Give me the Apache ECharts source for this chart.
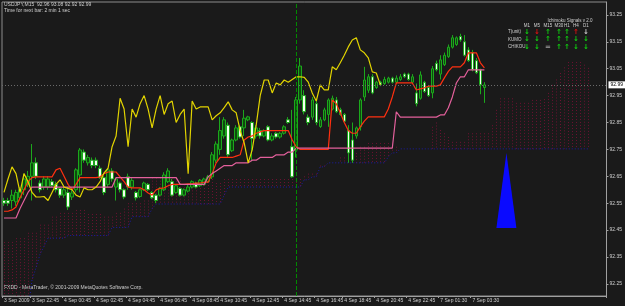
<!DOCTYPE html>
<html><head><meta charset="utf-8">
<script src="https://cdn.jsdelivr.net/npm/echarts/dist/echarts.min.js"></script>
<style>html,body{margin:0;padding:0;background:#1a1a1a;}#c{width:625px;height:306px;}</style>
</head><body><div id="c"></div>
<script>
// ---- DATA ----
// candles: [open, close, low, high], one per 15-minute bar
const candles = [
[92.56,92.55,92.54,92.57],[92.56,92.55,92.54,92.57],[92.56,92.58,92.53,92.60],[92.555,92.59,92.54,92.60],[92.57,92.60,92.56,92.61],
[92.60,92.64,92.58,92.66],[92.62,92.65,92.61,92.67],[92.65,92.70,92.56,92.77],[92.70,92.65,92.64,92.72],[92.625,92.60,92.59,92.635],
[92.61,92.64,92.60,92.65],[92.61,92.64,92.60,92.65],[92.63,92.615,92.61,92.64],[92.62,92.60,92.59,92.63],[92.605,92.58,92.57,92.61],
[92.58,92.60,92.57,92.61],[92.59,92.536,92.525,92.61],[92.573,92.588,92.562,92.61],[92.60,92.674,92.59,92.68],[92.655,92.748,92.59,92.755],
[92.74,92.71,92.70,92.75],[92.70,92.72,92.69,92.73],[92.71,92.69,92.68,92.72],[92.71,92.69,92.68,92.72],[92.68,92.645,92.64,92.69],
[92.645,92.59,92.58,92.65],[92.62,92.674,92.61,92.68],[92.67,92.64,92.63,92.68],[92.61,92.64,92.56,92.645],[92.625,92.60,92.59,92.63],
[92.60,92.573,92.565,92.605],[92.648,92.61,92.60,92.66],[92.61,92.635,92.60,92.645],[92.59,92.57,92.56,92.595],[92.575,92.60,92.57,92.605],
[92.60,92.625,92.595,92.63],[92.62,92.60,92.595,92.625],[92.59,92.57,92.565,92.595],[92.58,92.56,92.55,92.585],[92.58,92.605,92.575,92.61],
[92.60,92.655,92.595,92.665],[92.63,92.67,92.625,92.68],[92.63,92.58,92.575,92.64],[92.59,92.615,92.585,92.62],[92.605,92.58,92.575,92.61],
[92.58,92.60,92.575,92.605],[92.595,92.61,92.59,92.62],[92.61,92.63,92.605,92.635],[92.625,92.61,92.605,92.63],[92.615,92.635,92.61,92.64],
[92.62,92.64,92.615,92.645],[92.63,92.648,92.625,92.655],[92.648,92.73,92.64,92.74],[92.71,92.77,92.70,92.78],[92.75,92.82,92.73,92.87],
[92.80,92.86,92.79,92.87],[92.84,92.73,92.72,92.85],[92.745,92.785,92.74,92.79],[92.785,92.83,92.78,92.84],[92.834,92.796,92.79,92.84],
[92.83,92.866,92.80,92.897],[92.86,92.871,92.855,92.875],[92.85,92.79,92.706,92.855],[92.80,92.83,92.79,92.84],[92.82,92.80,92.79,92.83],
[92.80,92.82,92.795,92.825],[92.834,92.785,92.78,92.84],[92.785,92.80,92.78,92.81],[92.81,92.796,92.79,92.815],[92.796,92.81,92.79,92.815],
[92.81,92.834,92.805,92.84],[92.86,92.85,92.845,92.87],[92.76,92.648,92.645,92.897],[92.748,92.934,92.72,92.945],[92.934,93.06,92.92,93.09],
[92.95,92.89,92.88,92.97],[92.87,92.85,92.84,92.88],[92.87,92.934,92.86,92.945],[92.92,92.85,92.84,92.93],[92.835,92.86,92.83,92.87],
[92.86,92.897,92.855,92.905],[92.88,92.934,92.834,92.94],[92.90,92.94,92.895,92.95],[92.934,92.89,92.885,92.945],[92.897,92.88,92.875,92.905],
[92.88,92.855,92.85,92.885],[92.82,92.737,92.70,92.84],[92.785,92.71,92.70,92.85],[92.80,92.83,92.79,92.835],[92.834,92.934,92.82,92.94],
[92.945,93.008,92.93,93.057],[92.97,93.02,92.96,93.03],[93.02,92.96,92.955,93.03],[92.98,93.00,92.975,93.005],[93.00,92.99,92.985,93.005],
[92.995,93.01,92.99,93.02],[93.00,93.015,92.995,93.02],[93.015,93.00,92.995,93.02],[93.00,93.015,92.995,93.025],[93.01,93.02,93.005,93.03],
[93.03,93.02,93.015,93.035],[93.03,93.01,93.005,93.035],[93.00,93.02,92.995,93.03],[92.96,92.92,92.91,92.995],[92.94,93.027,92.935,93.04],
[93.00,92.965,92.96,93.005],[92.98,92.95,92.945,92.985],[92.96,93.05,92.94,93.06],[93.07,93.046,93.04,93.08],[93.03,93.083,93.01,93.10],
[93.065,93.10,93.06,93.11],[93.095,93.13,93.09,93.14],[93.13,93.165,93.125,93.175],[93.14,93.165,93.135,93.17],[93.17,93.157,93.15,93.18],
[93.15,93.10,93.095,93.175],[93.12,93.08,93.075,93.13],[93.11,93.046,93.04,93.12],[93.08,93.035,93.03,93.09],[93.046,92.99,92.955,93.05],
[92.98,92.99,92.923,93.00]
];
const tenkan = [
92.52,92.52,92.525,92.536,92.57,92.60,92.63,92.645,92.648,92.648,
92.648,92.648,92.648,92.674,92.68,92.65,92.62,92.60,92.62,92.645,
92.645,92.645,92.645,92.645,92.648,92.66,92.666,92.666,92.666,92.648,
92.63,92.61,92.607,92.607,92.607,92.60,92.588,92.58,92.60,92.605,
92.607,92.615,92.62,92.62,92.62,92.62,92.622,92.622,92.625,92.625,
92.628,92.628,92.66,92.70,92.72,92.72,92.72,92.72,92.725,92.73,
92.785,92.796,92.80,92.81,92.815,92.82,92.82,92.82,92.82,92.82,
92.82,92.82,92.785,92.76,92.75,92.75,92.75,92.75,92.75,92.75,
92.75,92.75,92.934,92.92,92.886,92.85,92.82,92.81,92.81,92.834,
92.855,92.871,92.871,92.871,92.871,92.871,92.90,92.945,92.997,92.997,
92.997,92.997,92.997,92.971,92.975,92.979,92.985,92.985,92.985,92.99,
93.016,93.04,93.057,93.057,93.057,93.072,93.109,93.109,93.109,93.072,
93.053];
const kijun = [
92.495,92.495,92.495,92.495,92.53,92.56,92.59,92.61,92.61,92.61,
92.61,92.61,92.61,92.61,92.61,92.61,92.61,92.61,92.61,92.61,
92.61,92.61,92.61,92.61,92.61,92.61,92.61,92.61,92.645,92.645,
92.645,92.645,92.645,92.645,92.645,92.645,92.645,92.645,92.645,92.645,
92.645,92.645,92.645,92.645,92.62,92.62,92.62,92.62,92.62,92.62,
92.62,92.648,92.66,92.67,92.68,92.69,92.69,92.69,92.70,92.70,
92.70,92.70,92.71,92.71,92.72,92.72,92.72,92.72,92.73,92.73,
92.73,92.74,92.74,92.755,92.755,92.755,92.755,92.755,92.755,92.755,
92.755,92.755,92.755,92.755,92.755,92.755,92.755,92.755,92.755,92.755,
92.755,92.755,92.755,92.755,92.755,92.755,92.755,92.755,92.89,92.87,
92.87,92.87,92.87,92.87,92.87,92.87,92.87,92.87,92.87,92.878,
92.878,92.905,92.945,92.997,93.02,93.02,93.046,93.046,93.046,93.046,
93.046];
const chikou = [
92.59,92.64,92.685,92.66,92.59,92.66,92.63,92.59,92.573,92.573,
92.575,92.56,92.59,92.62,92.637,92.61,92.605,92.60,92.58,92.573,
92.607,92.60,92.60,92.61,92.63,92.663,92.68,92.76,92.80,92.94,
92.90,92.76,92.90,92.87,92.92,92.95,92.90,92.83,92.90,92.95,
92.88,92.92,92.93,92.85,92.88,92.90,92.66,92.93,92.90,92.908,
92.908,92.908,92.86,92.875,92.886,92.905,92.927,92.897,92.886,92.82,
92.774,92.70,92.748,92.84,92.95,93.008,93.008,92.96,92.997,92.99,
93.008,93.0,93.01,93.02,93.02,93.018,93.0,92.96,92.93,92.99,
92.971,92.971,93.057,93.046,93.072,93.10,93.131,93.157,93.165,93.12,
93.109,93.09,93.038,93.034,92.99];
const spanA = [
92.406,92.406,92.406,92.42,92.42,92.42,92.44,92.44,92.44,92.47,
92.47,92.47,92.50,92.50,92.514,92.514,92.514,92.514,92.525,92.525,
92.525,92.51,92.51,92.51,92.51,92.50,92.50,92.50,92.514,92.514,
92.53,92.55,92.55,92.55,92.55,92.56,92.56,92.645,92.645,92.645,
92.645,92.645,92.645,92.645,92.645,92.62,92.62,92.62,92.62,92.64,
92.64,92.64,92.64,92.625,92.625,92.64,92.64,92.64,92.64,92.64,
92.64,92.64,92.64,92.64,92.64,92.64,92.64,92.64,92.64,92.64,
92.64,92.64,92.64,92.64,92.64,92.65,92.66,92.66,92.66,92.69,
92.69,92.70,92.70,92.70,92.72,92.72,92.737,92.737,92.737,92.76,
92.76,92.774,92.774,92.774,92.774,92.774,92.774,92.76,92.76,92.752,
92.752,92.752,92.752,92.752,92.752,92.752,92.752,92.834,92.85,92.822,
92.81,92.796,92.778,92.778,92.778,92.778,92.81,92.81,92.81,92.81,
92.81,92.81,92.84,92.897,92.94,92.94,92.94,92.94,92.923,92.923,
92.923,92.923,92.934,92.934,92.934,92.937,92.96,92.99,93.01,93.034,
93.055,93.075,93.075,93.075,93.075,93.065,93.053];
const spanB = [
92.15,92.15,92.15,92.15,92.15,92.15,92.15,92.265,92.31,92.36,
92.39,92.42,92.42,92.42,92.42,92.42,92.43,92.43,92.43,92.43,
92.43,92.43,92.43,92.43,92.43,92.43,92.43,92.46,92.46,92.46,
92.46,92.46,92.50,92.50,92.50,92.50,92.50,92.53,92.547,92.547,
92.547,92.547,92.547,92.547,92.547,92.547,92.547,92.547,92.547,92.547,
92.547,92.547,92.547,92.547,92.547,92.58,92.61,92.61,92.61,92.61,
92.61,92.61,92.61,92.61,92.61,92.61,92.61,92.61,92.61,92.61,
92.61,92.61,92.61,92.61,92.61,92.637,92.637,92.648,92.648,92.685,
92.685,92.70,92.70,92.70,92.70,92.70,92.70,92.70,92.70,92.70,
92.70,92.70,92.70,92.70,92.70,92.70,92.722,92.737,92.737,92.752,
92.752,92.752,92.752,92.752,92.752,92.752,92.752,92.752,92.752,92.752,
92.752,92.752,92.752,92.752,92.752,92.752,92.752,92.752,92.752,92.752,
92.752,92.752,92.752,92.752,92.752,92.752,92.752,92.752,92.752,92.752,
92.752,92.752,92.752,92.752,92.752,92.752,92.752,92.752,92.752,92.752,
92.752,92.752,92.752,92.752,92.752,92.752,92.752];
const barCount = 151;
const xTickIdx = [0,7,15,23,31,39,47,54,62,70,78,85,93,101,109,117];
const xTickText = ['3 Sep 2009','3 Sep 22:45','4 Sep 00:45','4 Sep 02:45','4 Sep 04:45','4 Sep 06:45','4 Sep 08:45','4 Sep 10:45','4 Sep 12:45','4 Sep 14:45','4 Sep 16:45','4 Sep 18:45','4 Sep 20:45','4 Sep 22:45','7 Sep 01:30','7 Sep 03:30'];
const yTicks = [92.25,92.35,92.45,92.55,92.65,92.75,92.85,92.95,93.05,93.15,93.25];
const bidPrice = 92.99;
const vLineBar = 73;
const triangle = {left:123, right:128, base:92.458, apex:92.737};
const headerText = 'USDJPY,M15  92.96 93.08 92.92 92.99';
const subHeaderText = 'Time for next bar: 2 min 1 sec';
const footerText = 'FXDD - MetaTrader, \u00A9 2001-2009 MetaQuotes Software Corp.';
const signalTitle = 'Ichimoku Signals v 2.0';
const signalCols = ['M1','M5','M15','M30','H1','H4','D1'];
const signalRows = ['T(unit)','KUMO','CHIKOU'];
const signalMarks = [
 ['\u2193','\u2193','\u2191','\u2191','\u2191','\u2191','\u2193'],
 ['\u2193','\u2193','\u2191','\u2191','\u2191','\u2193','\u2193'],
 ['\u2193','\u2193','=','\u2191','\u2191','\u2193','\u2193']];
const signalColors = [
 ['#10d010','#e01010','#10d010','#10d010','#10d010','#e01010','#c8c8c8'],
 ['#10d010','#10d010','#10d010','#10d010','#10d010','#10d010','#10d010'],
 ['#10d010','#10d010','#a0a0a0','#10d010','#10d010','#10d010','#10d010']];

// ---- CHART ----
const FONT = 'Liberation Sans';
const TXT = '#cfcfcf';
const xCats = Array.from({length: barCount}, (_, i) => String(i));
const tickMap = {}; xTickIdx.forEach((k, j) => tickMap[k] = xTickText[j]);
const showTick = (idx) => tickMap[idx] !== undefined;
const cloudData = spanA.map((a, i) => [i, a, spanB[i]]);

const graphics = [];
graphics.push({type:'text', left:4, top:2, style:{text:headerText, fill:TXT, fontSize:5, fontFamily:FONT}});
graphics.push({type:'text', left:4, top:8, style:{text:subHeaderText, fill:TXT, fontSize:5, fontFamily:FONT}});
graphics.push({type:'text', left:4, top:285, style:{text:footerText, fill:TXT, fontSize:5, fontFamily:FONT}});
graphics.push({type:'text', x:570, y:21, style:{text:signalTitle, fill:TXT, fontSize:4.5, fontFamily:FONT, align:'center', verticalAlign:'middle'}});
const colX = [527,537,548,559,567,576,586];
const rowY = [32,39.5,47];
signalCols.forEach((c, j) => graphics.push({type:'text', x:colX[j], y:26, style:{text:c, fill:TXT, fontSize:4.5, fontFamily:FONT, align:'center', verticalAlign:'middle'}}));
signalRows.forEach((r, k) => {
  graphics.push({type:'text', x:508, y:rowY[k], style:{text:r, fill:TXT, fontSize:4.5, fontFamily:FONT, align:'left', verticalAlign:'middle'}});
  signalMarks[k].forEach((m, j) => graphics.push({type:'text', x:colX[j], y:rowY[k], style:{text:m, fill:signalColors[k][j], fontSize:7, fontWeight:'bold', fontFamily:'DejaVu Sans', align:'center', verticalAlign:'middle'}}));
});

const chart = echarts.init(document.getElementById('c'), null, {renderer:'canvas'});
chart.setOption({
  backgroundColor:'#1a1a1a',
  animation:false,
  grid:{left:2, right:18, top:2, bottom:10, show:true, borderColor:'#8c8c8c', borderWidth:1, backgroundColor:'transparent'},
  xAxis:{type:'category', data:xCats, boundaryGap:true,
    axisLine:{show:true, onZero:false, lineStyle:{color:'#a0a0a0'}},
    axisTick:{show:true, interval:(i)=>showTick(i), length:2, lineStyle:{color:'#a0a0a0'}},
    axisLabel:{interval:(i)=>showTick(i), formatter:(v, i)=> tickMap[i] || '', align:'left', fontSize:5, color:TXT, margin:2, fontFamily:FONT},
    splitLine:{show:false}},
  yAxis:{type:'value', position:'right', min:92.205, max:93.298,
    axisLine:{show:true, lineStyle:{color:'#a0a0a0'}},
    axisTick:{show:true, customValues:yTicks, length:2, lineStyle:{color:'#a0a0a0'}},
    axisLabel:{customValues:yTicks, formatter:(v)=>Number(v).toFixed(2), fontSize:5, color:TXT, margin:3, fontFamily:FONT},
    splitLine:{show:false}},
  graphic: graphics,
  series:[
    {type:'custom', name:'cloud', data:cloudData, encode:{x:0, y:[1,2]}, clip:true, silent:true,
      renderItem:(params, api)=>{
        const i = api.value(0);
        const p1 = api.coord([i, api.value(1)]);
        const p2 = api.coord([i, api.value(2)]);
        const x = Math.round(p1[0]) + 0.5;
        return {type:'line', shape:{x1:x, y1:p1[1], x2:x, y2:p2[1]}, style:{stroke:'#6c1232', lineWidth:1, lineDash:[1,2]}};
      }},
    {type:'line', name:'spanB', data:spanB, showSymbol:false, clip:true, lineStyle:{color:'#1c1ca8', width:1, type:[1,2]}},
    {type:'candlestick', name:'USDJPY', data:candles, barWidth:3,
      itemStyle:{color:'#0e4a0e', color0:'#f4fff0', borderColor:'#1ca81c', borderColor0:'#1ca81c', borderWidth:1},
      markLine:{symbol:['none','none'], silent:true, animation:false,
        data:[
          {yAxis:bidPrice, lineStyle:{type:[1,2], color:'#6a6a6a', width:1},
            label:{show:true, position:'end', distance:2, formatter:(p)=>Number(p.value).toFixed(2), backgroundColor:'#ffffff', color:'#000000', fontSize:5, padding:[1,2], fontFamily:FONT}},
          {xAxis:vLineBar, lineStyle:{type:[4,2], color:'#008a00', width:1}, label:{show:false}}
        ]}},
    {type:'line', name:'tenkan', data:tenkan, showSymbol:false, lineStyle:{color:'#ff3010', width:1.2}},
    {type:'line', name:'kijun', data:kijun, showSymbol:false, lineStyle:{color:'#e4609c', width:1.2}},
    {type:'line', name:'chikou', data:chikou, showSymbol:false, lineStyle:{color:'#e2d400', width:1.2}},
    {type:'custom', name:'triangle', data:[[triangle.left, triangle.right, triangle.base, triangle.apex]], silent:true,
      renderItem:(params, api)=>{
        const l = api.coord([api.value(0), api.value(2)]);
        const r = api.coord([api.value(1), api.value(2)]);
        const a = api.coord([api.value(0), api.value(3)]);
        return {type:'polygon', shape:{points:[[l[0], l[1]], [(l[0]+r[0])/2, a[1]], [r[0], r[1]]]}, style:{fill:'#0a0aff'}};
      }}
  ]
});
</script></body></html>
